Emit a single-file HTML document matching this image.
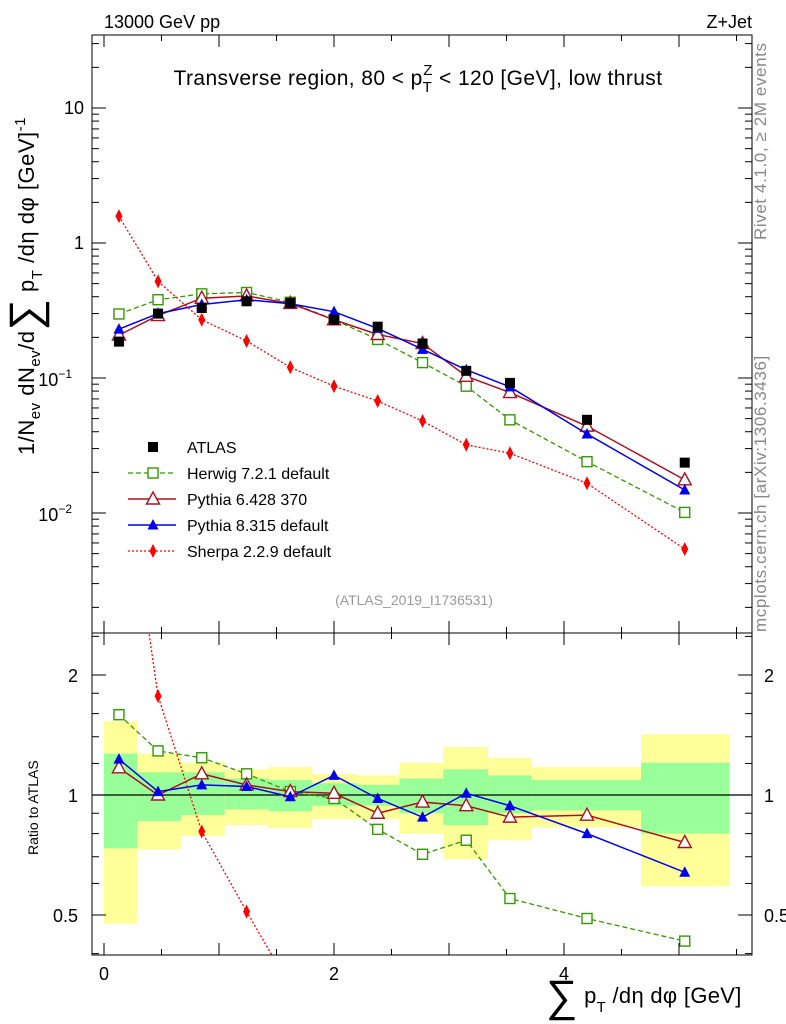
<!DOCTYPE html>
<html><head><meta charset="utf-8"><style>
body{margin:0;background:#fff}
svg{display:block;font-family:"Liberation Sans",sans-serif}
</style></head><body>
<svg id="c" width="786" height="1024" viewBox="0 0 786 1024" xmlns="http://www.w3.org/2000/svg">
<defs>
<clipPath id="cm"><rect x="92" y="35" width="660" height="598"/></clipPath>
<clipPath id="cr"><rect x="92" y="633" width="660" height="322"/></clipPath>
</defs>
<g id="bands" clip-path="url(#cr)"></g>
<g id="marks"></g>
<rect x="92" y="35" width="660" height="598" fill="none" stroke="#000" stroke-width="1"/>
<rect x="92" y="633" width="660" height="322" fill="none" stroke="#000" stroke-width="1"/>
<g id="ticks"></g>
<text x="104" y="28" font-size="18">13000 GeV pp</text>
<text x="752" y="28" font-size="18" text-anchor="end">Z+Jet</text>
<text x="418" y="85" font-size="21" text-anchor="middle" letter-spacing="0.4">Transverse region, 80 &lt; p<tspan font-size="15" dy="7">T</tspan><tspan font-size="15" dx="-9" dy="-17">Z</tspan><tspan dy="10"> &lt; 120 [GeV], low thrust</tspan></text>
<text x="414" y="605" font-size="14" fill="#999" text-anchor="middle">(ATLAS_2019_I1736531)</text>
<text transform="translate(766,240) rotate(-90)" font-size="17" fill="#888" letter-spacing="0.6">Rivet 4.1.0, ≥ 2M events</text>
<text transform="translate(766,632) rotate(-90)" font-size="17" fill="#888" letter-spacing="0.6">mcplots.cern.ch [arXiv:1306.3436]</text>
<text transform="translate(34,455) rotate(-90)" font-size="22" letter-spacing="0.5">1/N<tspan font-size="15" dy="6">ev</tspan><tspan dy="-6"> dN</tspan><tspan font-size="15" dy="6">ev</tspan><tspan dy="-6">/d</tspan><tspan font-size="44" dy="6">∑</tspan><tspan dy="-6"> p</tspan><tspan font-size="15" dy="8">T</tspan><tspan dy="-8"> /dη dφ  [GeV]</tspan><tspan font-size="15" dy="-9">-1</tspan></text>
<text transform="translate(38,855) rotate(-90)" font-size="14">Ratio to ATLAS</text>
<text x="546" y="1003" font-size="22" letter-spacing="0.3"><tspan font-size="44" dy="8">∑</tspan><tspan dy="-8"> p</tspan><tspan font-size="15" dy="9">T</tspan><tspan dy="-9"> /dη dφ [GeV]</tspan></text>
<g id="legend"></g>
</svg>
<script>
const binEdges=[0,0.29,0.67,1.05,1.43,1.81,2.2,2.57,2.95,3.34,3.72,4.67,5.44];
const xVals=[0.13,0.47,0.85,1.24,1.62,2.0,2.38,2.77,3.15,3.53,4.2,5.05];
const atlas=[0.186,0.30,0.33,0.37,0.36,0.27,0.24,0.18,0.113,0.092,0.049,0.0236];
const herwig=[0.298,0.38,0.42,0.43,0.364,0.27,0.193,0.13,0.087,0.049,0.024,0.0101];
const pythia6=[0.208,0.29,0.39,0.405,0.357,0.27,0.21,0.18,0.103,0.078,0.044,0.0176];
const pythia8=[0.23,0.30,0.35,0.38,0.355,0.31,0.233,0.163,0.115,0.086,0.0385,0.0148];
const sherpa=[1.58,0.52,0.27,0.188,0.12,0.087,0.0675,0.048,0.032,0.0277,0.0166,0.0054];
const rHerwig=[1.59,1.29,1.24,1.13,1.02,0.98,0.82,0.71,0.77,0.55,0.49,0.43];
const rPythia6=[1.17,1.0,1.13,1.06,1.02,1.01,0.90,0.96,0.94,0.88,0.89,0.76];
const rPythia8=[1.23,1.02,1.06,1.05,0.99,1.12,0.98,0.88,1.01,0.94,0.80,0.64];
const rSherpa=[8.5,1.77,0.81,0.51,0.33,0.32,0.28,0.27,0.28,0.30,0.34,0.23];
const totHi=[1.53,1.27,1.205,1.16,1.175,1.13,1.12,1.205,1.32,1.24,1.175,1.42];
const totLo=[0.476,0.73,0.79,0.84,0.825,0.87,0.87,0.80,0.69,0.77,0.83,0.59];
const statHi=[1.27,1.14,1.14,1.10,1.09,1.07,1.06,1.10,1.16,1.12,1.09,1.205];
const statLo=[0.735,0.86,0.89,0.92,0.91,0.94,0.94,0.90,0.84,0.90,0.915,0.80];
const xTickLabels=["0","2","4"];

const NS="http://www.w3.org/2000/svg";
const X=v=>104+v*115;
const Y=v=>378-(Math.log10(v)+1)*135;
const R=v=>795-Math.log2(v)*120;
function mk(tag,attrs,parent){const e=document.createElementNS(NS,tag);for(const k in attrs)e.setAttribute(k,attrs[k]);parent.appendChild(e);return e;}
const bands=document.getElementById('bands'),marks=document.getElementById('marks'),ticks=document.getElementById('ticks'),legend=document.getElementById('legend');

for(let i=0;i<xVals.length;i++){
  const y=mk('rect',{x:X(binEdges[i]),width:X(binEdges[i+1])-X(binEdges[i]),y:R(totHi[i]),height:R(totLo[i])-R(totHi[i]),fill:'#ffff99'},bands);
  
  
  const g=mk('rect',{x:X(binEdges[i]),width:X(binEdges[i+1])-X(binEdges[i]),y:R(statHi[i]),height:R(statLo[i])-R(statHi[i]),fill:'#99ff99'},bands);
  
  
}
const one=mk('line',{x1:92,x2:752,y1:R(1),y2:R(1),stroke:'#000','stroke-width':1.2},marks);



function marker(type,color,cx,cy,parent){
  if(type==='sq')return mk('rect',{x:cx-5,y:cy-5,width:10,height:10,fill:color},parent);
  if(type==='osq')return mk('rect',{x:cx-5,y:cy-5,width:10,height:10,fill:'#fff',stroke:color,'stroke-width':1.4},parent);
  if(type==='otri')return mk('polygon',{points:`${cx},${cy-7} ${cx-6.5},${cy+5} ${cx+6.5},${cy+5}`,fill:'#fff',stroke:color,'stroke-width':1.4},parent);
  if(type==='tri')return mk('polygon',{points:`${cx},${cy-6} ${cx-5.5},${cy+4.5} ${cx+5.5},${cy+4.5}`,fill:color},parent);
  return mk('polygon',{points:`${cx},${cy-7} ${cx-3.5},${cy} ${cx},${cy+7} ${cx+3.5},${cy}`,fill:color},parent);
}
const series=[
 {n:'herwig',vals:herwig,r:rHerwig,c:'#339900',dash:'5,3',m:'osq',w:1.3,label:'Herwig 7.2.1 default'},
 {n:'pythia6',vals:pythia6,r:rPythia6,c:'#aa1122',dash:'',m:'otri',w:1.5,label:'Pythia 6.428 370'},
 {n:'pythia8',vals:pythia8,r:rPythia8,c:'#0000ee',dash:'',m:'tri',w:1.5,label:'Pythia 8.315 default'},
 {n:'sherpa',vals:sherpa,r:rSherpa,c:'#ff0000',dash:'2,2',m:'dia',w:1.3,label:'Sherpa 2.2.9 default'}
];
const gm=mk('g',{'clip-path':'url(#cm)'},marks);
const gr=mk('g',{'clip-path':'url(#cr)'},marks);
for(const s of series){
  const p1=mk('polyline',{points:xVals.map((x,i)=>X(x)+','+Y(s.vals[i])).join(' '),fill:'none',stroke:s.c,'stroke-width':s.w,'stroke-dasharray':s.dash},gm);
  
  
  const p2=mk('polyline',{points:xVals.map((x,i)=>X(x)+','+R(s.r[i])).join(' '),fill:'none',stroke:s.c,'stroke-width':s.w,'stroke-dasharray':s.dash},gr);
  
  
  xVals.forEach((x,i)=>{
    const a=marker(s.m,s.c,X(x),Y(s.vals[i]),gm);
    
    
    const b=marker(s.m,s.c,X(x),R(s.r[i]),gr);
    
    
  });
}
xVals.forEach((x,i)=>{
  const a=marker('sq','#000',X(x),Y(atlas[i]),gm);
  
  
});

function tk(x1,y1,x2,y2){const l=mk('line',{x1,y1,x2,y2,stroke:'#000','stroke-width':1},ticks);}
function txt(x,y,s,anchor,size,name){const t=mk('text',{x,y,'font-size':size||18,'text-anchor':anchor||'middle'},ticks);t.textContent=s;return t;}
for(let v=0;v<=5.5;v+=0.5){
  const x=X(v),L=(Math.abs(v-Math.round(v))<1e-6)?12:6;
  tk(x,633,x,633-L);tk(x,35,x,35+L);tk(x,955,x,955-L);tk(x,633,x,633+L);
}
xTickLabels.forEach(s=>txt(X(+s),980,s,'middle',18,'x-tick-label'));
for(let d=-3;d<=1;d++){for(let m=1;m<10;m++){const v=m*Math.pow(10,d),y=Y(v);if(y<35||y>633)continue;const L=m===1?14:7;tk(92,y,92+L,y);tk(752,y,752-L,y);}}
txt(84,114,'10','end',18,'y-tick-label');
txt(84,249,'1','end',18,'y-tick-label');
const t1=txt(72,386,'10','end',18,'y-tick-label');const e1=mk('tspan',{'font-size':12,dy:-8},t1);e1.textContent='−1';
const t2=txt(72,521,'10','end',18,'y-tick-label');const e2=mk('tspan',{'font-size':12,dy:-8},t2);e2.textContent='−2';
const rt=[0.4,0.5,0.6,0.7,0.8,0.9,1,1.2,1.4,1.6,1.8,2,2.5];
rt.forEach(v=>{const y=R(v);if(y<633||y>955)return;const L=(v===0.5||v===1||v===2)?14:7;tk(92,y,92+L,y);tk(752,y,752-L,y);});
[['2',2],['1',1],['0.5',0.5]].forEach(([s,v])=>{txt(78,R(v)+7,s,'end',18,'ratio-tick-label');txt(764,R(v)+7,s,'start',18,'ratio-tick-label');});

const leg=[{m:'sq',c:'#000',label:'ATLAS',dash:null,n:'atlas'}].concat(series);
leg.forEach((s,i)=>{
  const y=447+i*26;
  const g=mk('g',{},legend);
  
  
  if(s.dash!==null){mk('line',{x1:128,x2:176,y1:y,y2:y,stroke:s.c,'stroke-width':s.w,'stroke-dasharray':s.dash},g);}
  marker(s.m,s.c,153,y,g);
  const t=mk('text',{x:187,y:y+6,'font-size':16},g);t.textContent=s.label;
});
</script>
</body></html>
